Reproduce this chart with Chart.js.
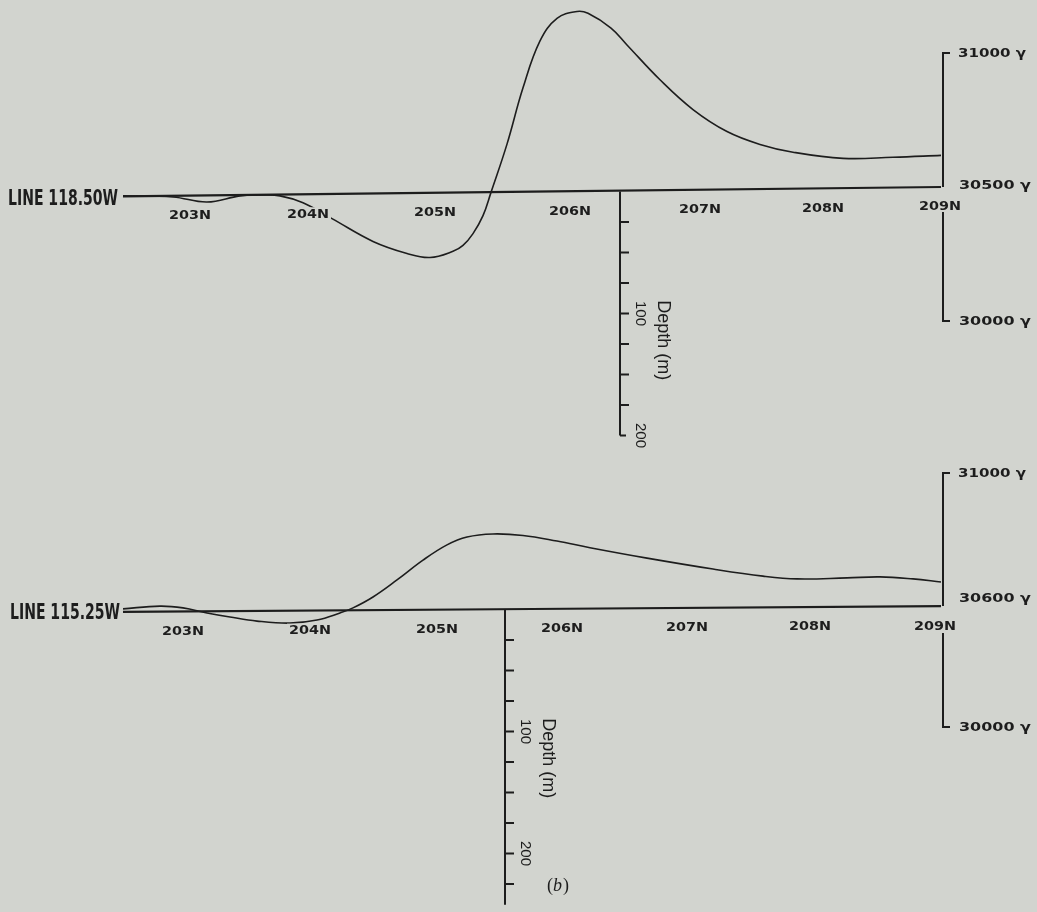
<!DOCTYPE html>
<html><head><meta charset="utf-8">
<script src="https://cdn.jsdelivr.net/npm/chart.js@4.4.0/dist/chart.umd.min.js"></script>
<style>
html,body{margin:0;padding:0;background:#d2d4cf;}
#wrap{width:1037px;height:912px;position:relative;}
canvas{display:block;}
</style>
</head><body>
<div id="wrap"><canvas id="c" width="1037" height="912"></canvas></div>
<script>
// ---------------- DATA ----------------
const lineNames = ['LINE 118.50W', 'LINE 115.25W'];
const stationLabelsTop = ['203N', '204N', '205N', '206N', '207N', '208N', '209N'];
const stationLabelsBottom = ['203N', '204N', '205N', '206N', '207N', '208N', '209N'];
// station positions along the line (distance units from the line start)
const stationDistTop = [33.5, 92.5, 156, 223.5, 288.5, 350, 408.5];
const stationDistBottom = [30, 93.5, 157, 219.5, 282, 343.5, 406];

// total magnetic field along LINE 118.50W (gamma)
const distTop = [0, 25, 42, 58.5, 68.5, 78.5, 90, 104.5, 125, 142, 153.5, 165, 170, 175, 180, 184, 192, 200, 208.5, 217, 227, 232.5, 244, 252, 268.5, 285, 302, 318.5, 335, 360, 385, 409];
const fieldTop = [30467, 30463, 30444, 30467, 30470, 30467, 30441, 30382, 30297, 30252, 30237, 30260, 30282, 30326, 30393, 30480, 30660, 30870, 31045, 31129, 31155, 31148, 31093, 31030, 30900, 30789, 30707, 30659, 30630, 30607, 30611, 30618];

// total magnetic field along LINE 115.25W (gamma)
const distBottom = [0, 18.5, 30, 42, 53.5, 67, 83.5, 97, 108.5, 115, 125, 137, 150, 162, 172, 185, 200, 217, 233.5, 262, 295, 320, 337, 362, 378.5, 395, 409];
const fieldBottom = [30465, 30476, 30469, 30449, 30433, 30417, 30409, 30421, 30449, 30469, 30512, 30579, 30657, 30717, 30748, 30760, 30754, 30732, 30706, 30665, 30622, 30594, 30583, 30587, 30591, 30583, 30571];

// ship track (reference line) ends
const baselineDist = [0, 409];
const baselineTop = [30465, 30500];
const baselineBottom = [30453, 30476];

// right-hand magnetic scale
const magTickValues = [31000, 30500, 30000];
const magTickLabelsTop = ['31000 γ', '30500 γ', '30000 γ'];
const magTickLabelsBottom = ['31000 γ', '30600 γ', '30000 γ'];

// depth scale (m)
const depthTicks = [0, 25, 50, 75, 100, 125, 150, 175, 200, 225];
const depthTickLabels = [100, 200];
const depthAxisDist = [248.5, 191];   // where the depth axis meets each line
const depthAxisEnd = [200, 242];

// ---------------- LAYOUT (pixels / styles) ----------------
const W = 1037, H = 912;
const X_PER_PX = 0.5, X_ORIGIN_PX = 123;
const TOP_31000_PX = 53, TOP_G_PER_PX = 3.731;
const BOT_31000_PX = 473, BOT_G_PER_PX = 3.937;
const M_PER_PX = 0.8197;
const DEPTH0_PX = [191.5, 609.5];
const INK = '#1d1d1d';

const xMin = -X_ORIGIN_PX * X_PER_PX, xMax = xMin + W * X_PER_PX;
const yTopMax = 31000 + TOP_31000_PX * TOP_G_PER_PX, yTopMin = yTopMax - H * TOP_G_PER_PX;
const yBotMax = 31000 + BOT_31000_PX * BOT_G_PER_PX, yBotMin = yBotMax - H * BOT_G_PER_PX;
const dTopMin = -DEPTH0_PX[0] * M_PER_PX, dTopMax = dTopMin + H * M_PER_PX;
const dBotMin = -DEPTH0_PX[1] * M_PER_PX, dBotMax = dBotMin + H * M_PER_PX;

const pts = (xs, ys) => xs.map((x, i) => ({x: x, y: ys[i]}));

function fitText(ctx, text, x, y, font, align, targetW) {
  ctx.save();
  ctx.font = font;
  const w = ctx.measureText(text).width;
  const sx = targetW ? targetW / w : 1;
  ctx.translate(x, y);
  ctx.scale(sx, 1);
  ctx.textAlign = align;
  ctx.textBaseline = 'middle';
  ctx.fillStyle = INK;
  ctx.fillText(text, 0, 0);
  ctx.restore();
  return w * sx;
}

const panels = [
  {name: lineNames[0], yId: 'yTop', dId: 'dTop', base: baselineTop, labels: stationLabelsTop, sdist: stationDistTop,
   ticks: magTickLabelsTop, dAxis: depthAxisDist[0], dEnd: depthAxisEnd[0], lowerGap: 25, nameY: 3, nameRight: 5},
  {name: lineNames[1], yId: 'yBot', dId: 'dBot', base: baselineBottom, labels: stationLabelsBottom, sdist: stationDistBottom,
   ticks: magTickLabelsBottom, dAxis: depthAxisDist[1], dEnd: depthAxisEnd[1], lowerGap: 27, nameY: 2, nameRight: 3}
];

const overlay = {
  id: 'overlay',
  afterDatasetsDraw(chart) {
    const ctx = chart.ctx, xs = chart.scales.x;
    const bg = getComputedStyle(document.body).backgroundColor;
    panels.forEach(p => {
      const ys = chart.scales[p.yId], ds = chart.scales[p.dId];
      const bx0 = xs.getPixelForValue(baselineDist[0]), bx1 = xs.getPixelForValue(baselineDist[1]);
      const by0 = ys.getPixelForValue(p.base[0]), by1 = ys.getPixelForValue(p.base[1]);
      const baseAt = px => by0 + (by1 - by0) * (px - bx0) / (bx1 - bx0);

      // line name
      fitText(ctx, p.name, bx0 - p.nameRight, by0 + p.nameY, 'bold 21px "DejaVu Sans Condensed", "DejaVu Sans"', 'right', 110);

      // station labels (with paper-coloured backing, hiding the curve beneath)
      p.labels.forEach((lab, i) => {
        const px = xs.getPixelForValue(p.sdist[i]);
        const py = baseAt(px) + 20;
        ctx.fillStyle = bg;
        ctx.fillRect(px - 23, py - 7, 46, 14);
        fitText(ctx, lab, px, py, 'bold 13px "DejaVu Sans"', 'center', 42);
      });

      // right magnetic axis
      const xr = bx1 + 2;
      const y31 = ys.getPixelForValue(magTickValues[0]);
      const y30 = ys.getPixelForValue(magTickValues[2]);
      const yMid = ys.getPixelForValue(magTickValues[1]);
      ctx.save();
      ctx.strokeStyle = INK; ctx.lineWidth = 2; ctx.lineCap = 'butt';
      ctx.beginPath();
      ctx.moveTo(xr + 7, y31); ctx.lineTo(xr, y31); ctx.lineTo(xr, by1);
      ctx.moveTo(xr, by1 + p.lowerGap); ctx.lineTo(xr, y30); ctx.lineTo(xr + 7, y30);
      ctx.stroke();
      ctx.restore();
      fitText(ctx, p.ticks[0], xr + 15, y31 + 1, 'bold 13px "DejaVu Sans"', 'left', 68);
      fitText(ctx, p.ticks[1], xr + 16, yMid - 1, 'bold 13px "DejaVu Sans"', 'left', 72);
      fitText(ctx, p.ticks[2], xr + 16, y30 + 1, 'bold 13px "DejaVu Sans"', 'left', 72);

      // depth axis
      const xd = xs.getPixelForValue(p.dAxis);
      const d0 = ds.getPixelForValue(0), dE = ds.getPixelForValue(p.dEnd);
      ctx.save();
      ctx.strokeStyle = INK; ctx.lineWidth = 2;
      ctx.beginPath();
      ctx.moveTo(xd, d0); ctx.lineTo(xd, dE);
      depthTicks.forEach(t => {
        if (t === 0 || t > p.dEnd) return;
        const ty = ds.getPixelForValue(t);
        ctx.moveTo(xd, ty); ctx.lineTo(xd + (t === p.dEnd ? 6 : 9), ty);
      });
      ctx.stroke();
      ctx.restore();
      ctx.save();
      ctx.fillStyle = INK;
      depthTickLabels.forEach(t => {
        const ty = ds.getPixelForValue(t);
        ctx.save();
        ctx.translate(xd + 20, ty);
        ctx.rotate(Math.PI / 2);
        ctx.font = '15px "Liberation Sans", Arial';
        ctx.textAlign = 'center'; ctx.textBaseline = 'middle';
        ctx.fillText(String(t), 0, 0);
        ctx.restore();
      });
      ctx.translate(xd + 43, ds.getPixelForValue(122));
      ctx.rotate(Math.PI / 2);
      ctx.font = '18px "Liberation Sans", Arial';
      ctx.textAlign = 'center'; ctx.textBaseline = 'middle';
      ctx.fillText('Depth (m)', 0, 0);
      ctx.restore();
    });

    // figure tag
    ctx.save();
    ctx.fillStyle = INK; ctx.textBaseline = 'middle';
    ctx.font = '18px "Liberation Serif", serif';
    let x = 547; const y = 886;
    ctx.fillText('(', x, y); x += ctx.measureText('(').width;
    ctx.font = 'italic 18px "Liberation Serif", serif';
    ctx.fillText('b', x, y); x += ctx.measureText('b').width + 1;
    ctx.font = '18px "Liberation Serif", serif';
    ctx.fillText(')', x, y);
    ctx.restore();
  }
};

const lineDs = (data, yId, width) => ({
  data: data, yAxisID: yId, xAxisID: 'x',
  borderColor: INK, borderWidth: width, pointRadius: 0, pointHoverRadius: 0,
  fill: false, tension: 0.4, clip: false
});

new Chart(document.getElementById('c'), {
  type: 'line',
  data: {
    datasets: [
      lineDs(pts(baselineDist, baselineTop), 'yTop', 2.2),
      lineDs(pts(distTop, fieldTop), 'yTop', 1.6),
      lineDs(pts(baselineDist, baselineBottom), 'yBot', 2.2),
      lineDs(pts(distBottom, fieldBottom), 'yBot', 1.6)
    ]
  },
  options: {
    responsive: false, animation: false, events: [],
    layout: {padding: 0},
    plugins: {legend: {display: false}, tooltip: {enabled: false}, title: {display: false}},
    scales: {
      x: {type: 'linear', axis: 'x', position: 'bottom', display: false, min: xMin, max: xMax},
      yTop: {type: 'linear', axis: 'y', position: 'left', display: false, min: yTopMin, max: yTopMax},
      yBot: {type: 'linear', axis: 'y', position: 'left', display: false, min: yBotMin, max: yBotMax},
      dTop: {type: 'linear', axis: 'y', position: 'right', display: false, reverse: true, min: dTopMin, max: dTopMax},
      dBot: {type: 'linear', axis: 'y', position: 'right', display: false, reverse: true, min: dBotMin, max: dBotMax}
    }
  },
  plugins: [overlay]
});
</script>
</body></html>
